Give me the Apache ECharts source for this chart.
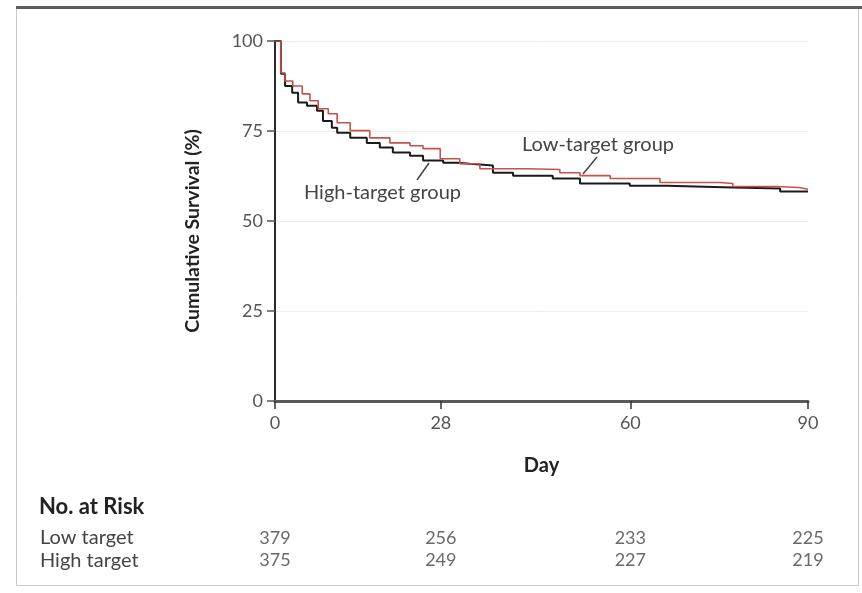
<!DOCTYPE html>
<html>
<head>
<meta charset="utf-8">
<script src="https://cdn.jsdelivr.net/npm/echarts@6/dist/echarts.min.js"></script>
<style>
  html, body { margin: 0; padding: 0; background: #fff; }
  #chart { width: 862px; height: 593px; }
</style>
</head>
<body>
<div id="chart"></div>
<script>
// survival curves: [day, cumulative survival %]
const lowTarget = [
  [0, 100], [1.0, 91.1], [1.7, 88.9], [3.0, 87.5], [4.6, 85.3], [5.9, 83.4],
  [7.3, 81.2], [9.0, 79.8], [10.5, 77.3], [12.7, 75.1], [16.0, 73.1], [19.4, 71.7],
  [22.8, 70.9], [25.0, 70.1], [27.9, 67.3], [31.2, 65.9], [34.6, 64.5], [42.6, 64.3],
  [48.1, 63.4], [51.5, 62.6], [56.6, 61.8], [65.0, 60.7], [75.1, 60.4], [77.3, 59.6],
  [84.8, 59.3], [88.5, 58.8], [90, 58.8]
];
const highTarget = [
  [0, 100], [1.0, 90.9], [1.7, 87.5], [2.9, 85.6], [3.9, 82.9], [5.4, 82.0],
  [7.1, 80.6], [8.1, 77.8], [9.6, 75.9], [10.5, 74.5], [12.7, 73.1], [15.5, 71.7],
  [17.7, 70.4], [19.9, 69.0], [22.8, 68.1], [25.0, 66.8], [28.4, 66.2], [30.7, 65.9],
  [32.9, 65.4], [36.8, 63.4], [40.2, 62.6], [46.9, 61.8], [51.5, 60.4], [59.9, 59.8],
  [66.2, 59.3], [77.3, 59.0], [85.3, 58.2], [90, 58.2]
];
const dayTicks = [0, 28, 60, 90];
const atRiskLow = [379, 256, 233, 225];
const atRiskHigh = [375, 249, 227, 219];

const FONT = 'Lato, "Open Sans", sans-serif';

const riskPoints = dayTicks.map((d, i) => [d, 1, atRiskLow[i]])
  .concat(dayTicks.map((d, i) => [d, 0, atRiskHigh[i]]));

const chart = echarts.init(document.getElementById('chart'));

chart.setOption({
  animation: false,
  backgroundColor: '#fff',
  textStyle: { fontFamily: FONT },
  grid: [
    { left: 275, right: 54, top: 41, bottom: 192 },
    { left: 275, right: 54, top: 538, bottom: 33 }
  ],
  xAxis: [
    {
      type: 'value', gridIndex: 0, min: 0, max: 90,
      name: 'Day', nameLocation: 'middle', nameGap: 55,
      nameTextStyle: { fontFamily: FONT, fontWeight: 'bold', fontSize: 20, color: '#222' },
      axisLine: { show: true, lineStyle: { color: '#5a5a5a', width: 3 } },
      axisTick: { show: true, length: 8, customValues: dayTicks, lineStyle: { color: '#333', width: 1.5 } },
      axisLabel: { customValues: dayTicks, margin: 13, fontSize: 18, color: '#555', fontFamily: FONT },
      splitLine: { show: false }
    },
    { type: 'value', gridIndex: 1, min: 0, max: 90, show: false }
  ],
  yAxis: [
    {
      type: 'value', gridIndex: 0, min: 0, max: 100, interval: 25,
      axisLine: { show: true, lineStyle: { color: '#2a2a2a', width: 2 } },
      axisTick: { show: true, length: 8, lineStyle: { color: '#555', width: 1.5 } },
      axisLabel: { margin: 12, fontSize: 18, color: '#555', fontFamily: FONT },
      splitLine: { show: true, lineStyle: { color: '#ececec', width: 1 } }
    },
    { type: 'value', gridIndex: 1, min: 0, max: 1, show: false }
  ],
  series: [
    {
      name: 'High target', type: 'line', step: 'end', data: highTarget,
      xAxisIndex: 0, yAxisIndex: 0, showSymbol: false, symbol: 'none', z: 3,
      lineStyle: { color: '#1a1a1a', width: 2 }
    },
    {
      name: 'Low target', type: 'line', step: 'end', data: lowTarget,
      xAxisIndex: 0, yAxisIndex: 0, showSymbol: false, symbol: 'none', z: 4,
      lineStyle: { color: '#c8514a', width: 1.6 }
    },
    {
      name: 'No. at risk', type: 'scatter', data: riskPoints,
      xAxisIndex: 1, yAxisIndex: 1, symbolSize: 0, silent: true,
      label: {
        show: true, position: 'inside', fontSize: 18, color: '#444', fontFamily: FONT,
        formatter: (p) => String(p.value[2])
      }
    }
  ],
  graphic: [
    // frame
    { type: 'rect', shape: { x: 16.5, y: 7.5, width: 842, height: 578 }, style: { fill: 'none', stroke: '#c8c8c8', lineWidth: 1 }, silent: true },
    { type: 'line', shape: { x1: 16, y1: 7.5, x2: 862, y2: 7.5 }, style: { stroke: '#5c5c5c', lineWidth: 3 }, silent: true },
    // y axis title
    { type: 'text', x: 193, y: 231, rotation: Math.PI / 2, style: { text: 'Cumulative Survival (%)', fontSize: 19.5, fontWeight: 'bold', fontFamily: FONT, fill: '#222', textAlign: 'center', textVerticalAlign: 'middle' } },
    // curve labels
    { type: 'text', x: 522, y: 145, style: { text: 'Low-target group', fontSize: 20, fontFamily: FONT, fill: '#444', textVerticalAlign: 'middle' } },
    { type: 'line', shape: { x1: 597, y1: 157, x2: 583, y2: 174 }, style: { stroke: '#444', lineWidth: 1.5 } },
    { type: 'text', x: 304, y: 193, style: { text: 'High-target group', fontSize: 20, fontFamily: FONT, fill: '#444', textVerticalAlign: 'middle' } },
    { type: 'line', shape: { x1: 417, y1: 180, x2: 429, y2: 163 }, style: { stroke: '#444', lineWidth: 1.5 } },
    // at-risk table labels
    { type: 'text', x: 39, y: 507, style: { text: 'No. at Risk', fontSize: 22, fontWeight: 'bold', fontFamily: FONT, fill: '#222', textVerticalAlign: 'middle' } },
    { type: 'text', x: 40, y: 538, style: { text: 'Low target', fontSize: 20, fontFamily: FONT, fill: '#444', textVerticalAlign: 'middle' } },
    { type: 'text', x: 40, y: 561, style: { text: 'High target', fontSize: 20, fontFamily: FONT, fill: '#444', textVerticalAlign: 'middle' } }
  ]
});
</script>
</body>
</html>
